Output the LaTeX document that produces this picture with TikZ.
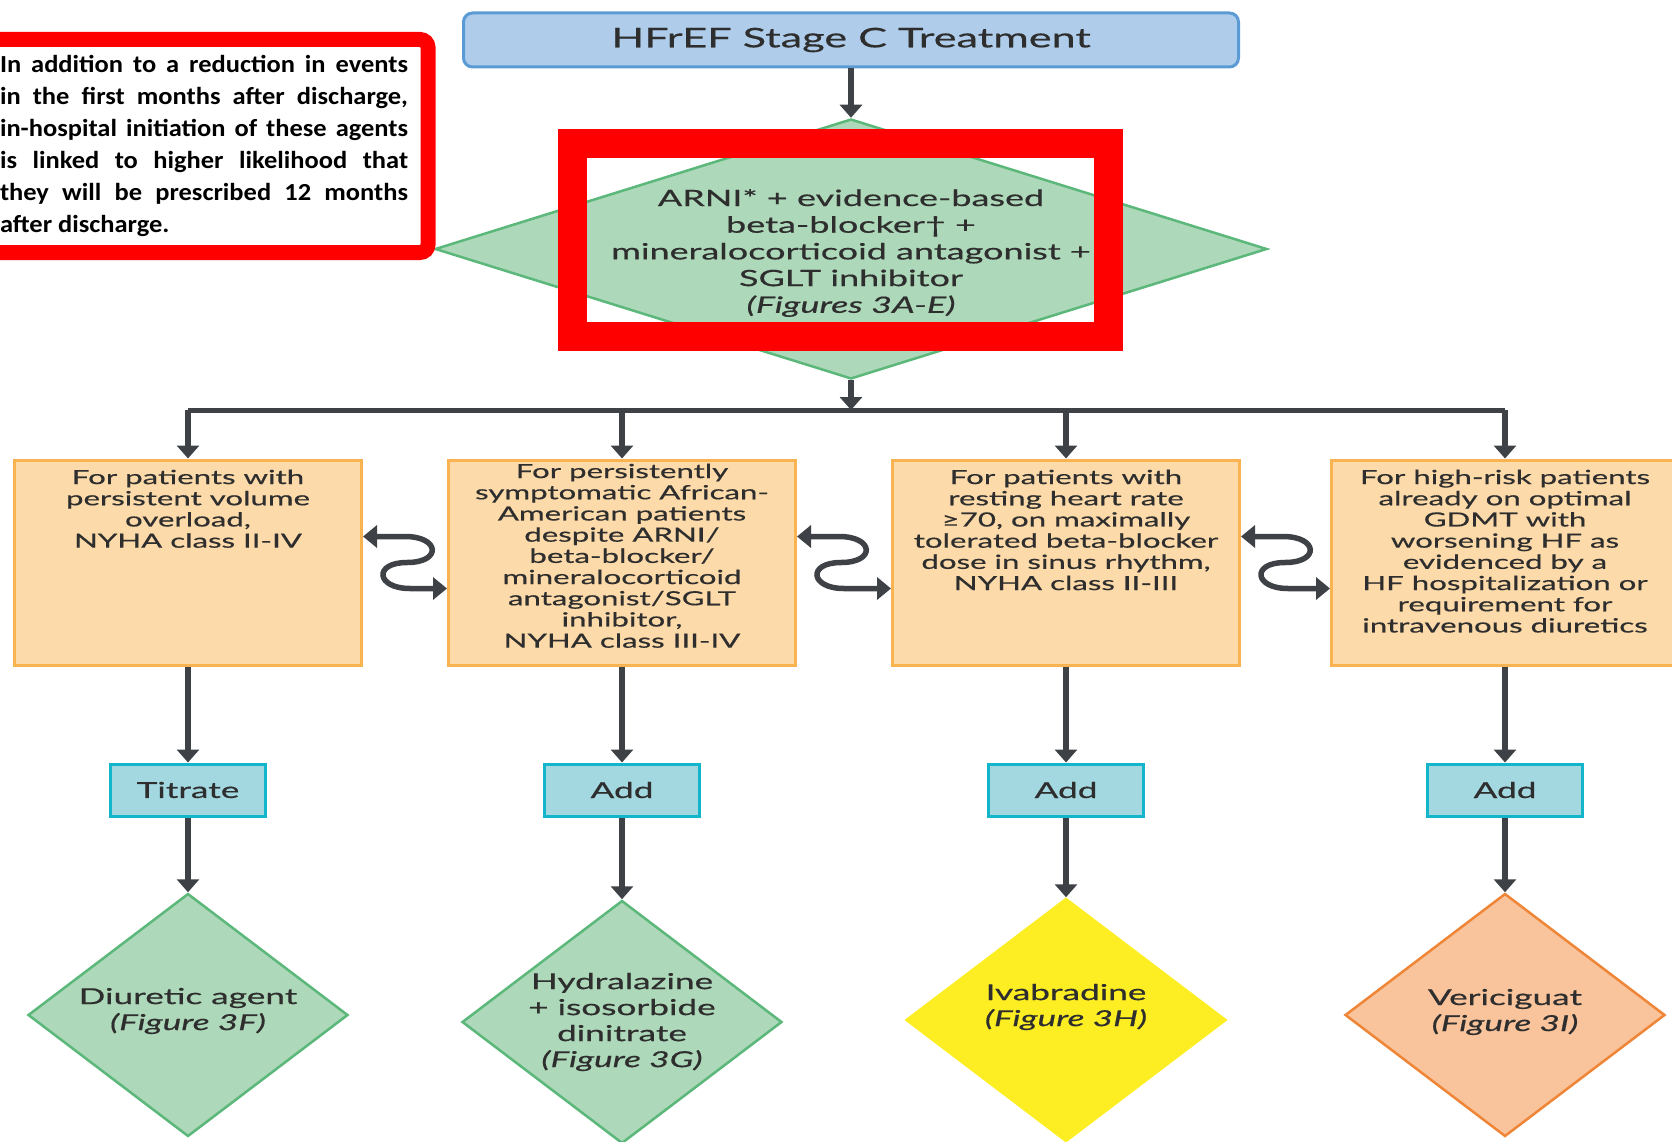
\documentclass[tikz,border=0pt]{standalone}
\usepackage{fontspec}
\setmainfont{Lato}[FakeStretch=1.6,FakeBold=0.5]
\newfontfamily\notefont{Carlito}[FakeStretch=1.08]
\usetikzlibrary{arrows.meta,positioning,shapes.geometric}

\definecolor{arrowgray}{HTML}{3E4146}
\definecolor{textgray}{HTML}{2E2E2E}
\definecolor{titlefill}{HTML}{AFCDEA}
\definecolor{titleedge}{HTML}{5A9BD6}
\definecolor{greenfill}{HTML}{ADD8B9}
\definecolor{greenedge}{HTML}{5BB87A}
\definecolor{orangefill}{HTML}{FDDAA9}
\definecolor{orangeedge}{HTML}{F9B350}
\definecolor{cyanfill}{HTML}{A3D8E1}
\definecolor{cyanedge}{HTML}{12B5C9}
\definecolor{yellowfill}{HTML}{FCEE23}
\definecolor{peachfill}{HTML}{F9C49B}
\definecolor{peachedge}{HTML}{EF8537}
\definecolor{notered}{HTML}{FF0000}

\tikzset{
  arr/.style={draw=arrowgray, line width=6pt, -{Triangle[length=13pt,width=22pt]}},
  busline/.style={draw=arrowgray, line width=5pt},
  swaparr/.style={draw=arrowgray, line width=5.5pt,
    {Triangle[length=14pt,width=22pt]}-{Triangle[length=14pt,width=22pt]}},
  titlebox/.style={draw=titleedge, fill=titlefill, line width=3pt, rounded corners=9pt,
    minimum width=775pt, minimum height=54pt, text=textgray,
    font=\fontsize{27}{32}\selectfont},
  bigdia/.style={diamond, draw=greenedge, fill=greenfill, line width=2.5pt, inner sep=0pt,
    minimum width=832pt, minimum height=260pt},
  smalldia/.style={diamond, line width=2.5pt, inner sep=0pt,
    minimum width=320pt, minimum height=243pt},
  diatxt/.style={align=center, inner sep=0pt, text=textgray,
    font=\fontsize{22}{26}\selectfont},
  bigtxt/.style={align=center, inner sep=0pt, text=textgray,
    font=\fontsize{22.5}{26.7}\selectfont},
  choicebox/.style={draw=orangeedge, fill=orangefill, line width=3pt,
    minimum width=347pt, minimum height=205pt},
  choicetxt/.style={align=center, inner sep=0pt, text=textgray,
    font=\fontsize{19.5}{21.2}\selectfont},
  actbox/.style={draw=cyanedge, fill=cyanfill, line width=3pt,
    minimum width=155pt, minimum height=52pt, text=textgray,
    font=\fontsize{22}{26}\selectfont},
  hiframe/.style={draw=notered, line width=29pt, minimum width=536pt, minimum height=193pt},
  notebox/.style={draw=notered, fill=white, line width=15pt, rounded corners=8pt,
    minimum width=448pt, minimum height=213pt},
  notetxt/.style={text width=408pt, align=justify, inner sep=0pt, text=black,
    font=\notefont\bfseries\fontsize{24.5}{32}\selectfont}
}

\begin{document}
\begin{tikzpicture}[x=1pt,y=-1pt]
\useasboundingbox (0,0) rectangle (1672,1142);

% top
\node[titlebox] (title) at (851,40) {HFrEF Stage C Treatment};
\node[bigdia] (arni) at (851,249) {};
\node[bigtxt, yshift=-4pt] (arnitxt) at (arni) {ARNI* + evidence-based\\beta-blocker† +\\mineralocorticoid antagonist +\\SGLT inhibitor\\\textit{(Figures 3A-E)}};
\draw[arr] (title.south) -- (arni.north);

% four options
\node[choicebox] (b1) at (188,562.5) {};
\node[choicebox] (b2) at (622,562.5) {};
\node[choicebox] (b3) at (1066,562.5) {};
\node[choicebox] (b4) at (1505,562.5) {};
\node[choicetxt, below=11pt of b1.north] (b1txt) {For patients with\\persistent volume\\overload,\\NYHA class II-IV};
\node[choicetxt, below=5pt of b2.north] (b2txt) {For persistently\\symptomatic African-\\American patients\\despite ARNI/\\beta-blocker/\\mineralocorticoid\\antagonist/SGLT\\inhibitor,\\NYHA class III-IV};
\node[choicetxt, below=11pt of b3.north] (b3txt) {For patients with\\resting heart rate\\≥70, on maximally\\tolerated beta-blocker\\dose in sinus rhythm,\\NYHA class II-III};
\node[choicetxt, below=11pt of b4.north] (b4txt) {For high-risk patients\\already on optimal\\GDMT with\\worsening HF as\\evidenced by a\\HF hospitalization or\\requirement for\\intravenous diuretics};

\coordinate (bus) at (0,410);
\draw[arr] (arni.south) -- (arni.south |- bus);
\draw[busline] (b1.north |- bus) -- (b4.north |- bus);
\draw[arr] (b1.north |- bus) -- (b1.north);
\draw[arr] (b2.north |- bus) -- (b2.north);
\draw[arr] (b3.north |- bus) -- (b3.north);
\draw[arr] (b4.north |- bus) -- (b4.north);

\draw[swaparr] ([yshift=26pt]b1.east) -- ++(42,0) .. controls +(35,0) and +(35,0) .. ++(2,26) .. controls +(-34,0) and +(-34,0) .. ++(3,26) -- ([yshift=-26pt]b2.west);
\draw[swaparr] ([yshift=26pt]b2.east) -- ++(42,0) .. controls +(35,0) and +(35,0) .. ++(2,26) .. controls +(-34,0) and +(-34,0) .. ++(3,26) -- ([yshift=-26pt]b3.west);
\draw[swaparr] ([yshift=26pt]b3.east) -- ++(42,0) .. controls +(35,0) and +(35,0) .. ++(2,26) .. controls +(-34,0) and +(-34,0) .. ++(3,26) -- ([yshift=-26pt]b4.west);

% actions
\node[actbox] (t1) at (188,790) {Titrate};
\node[actbox] (t2) at (622,790) {Add};
\node[actbox] (t3) at (1066,790) {Add};
\node[actbox] (t4) at (1505,790) {Add};
\draw[arr] (b1.south) -- (t1.north);
\draw[arr] (b2.south) -- (t2.north);
\draw[arr] (b3.south) -- (t3.north);
\draw[arr] (b4.south) -- (t4.north);

% drugs
\node[smalldia, draw=greenedge, fill=greenfill] (d1) at (188,1015) {};
\node[smalldia, draw=greenedge, fill=greenfill] (d2) at (622,1022) {};
\node[smalldia, draw=yellowfill, fill=yellowfill] (d3) at (1066,1020) {};
\node[smalldia, draw=peachedge, fill=peachfill] (d4) at (1505,1015) {};
\node[diatxt, yshift=4pt] (d1txt) at (d1) {Diuretic agent\\\textit{(Figure 3F)}};
\node[diatxt] (d2txt) at (d2) {Hydralazine\\+ isosorbide\\dinitrate\\\textit{(Figure 3G)}};
\node[diatxt, yshift=13pt] (d3txt) at (d3) {Ivabradine\\\textit{(Figure 3H)}};
\node[diatxt, yshift=3pt] (d4txt) at (d4) {Vericiguat\\\textit{(Figure 3I)}};
\draw[arr] (t1.south) -- (d1.north);
\draw[arr] (t2.south) -- (d2.north);
\draw[arr] (t3.south) -- (d3.north);
\draw[arr] (t4.south) -- (d4.north);

% highlight and note
\node[hiframe] (hl) at (840,240) {};
\node[notebox] (note) at (204,146) {};
\node[notetxt] (notetext) at (note) {In addition to a reduction in events\linebreak in the first months after discharge,\linebreak in-hospital initiation of these agents\linebreak is linked to higher likelihood that\linebreak they will be prescribed 12 months\linebreak after discharge.};
\end{tikzpicture}
\end{document}
